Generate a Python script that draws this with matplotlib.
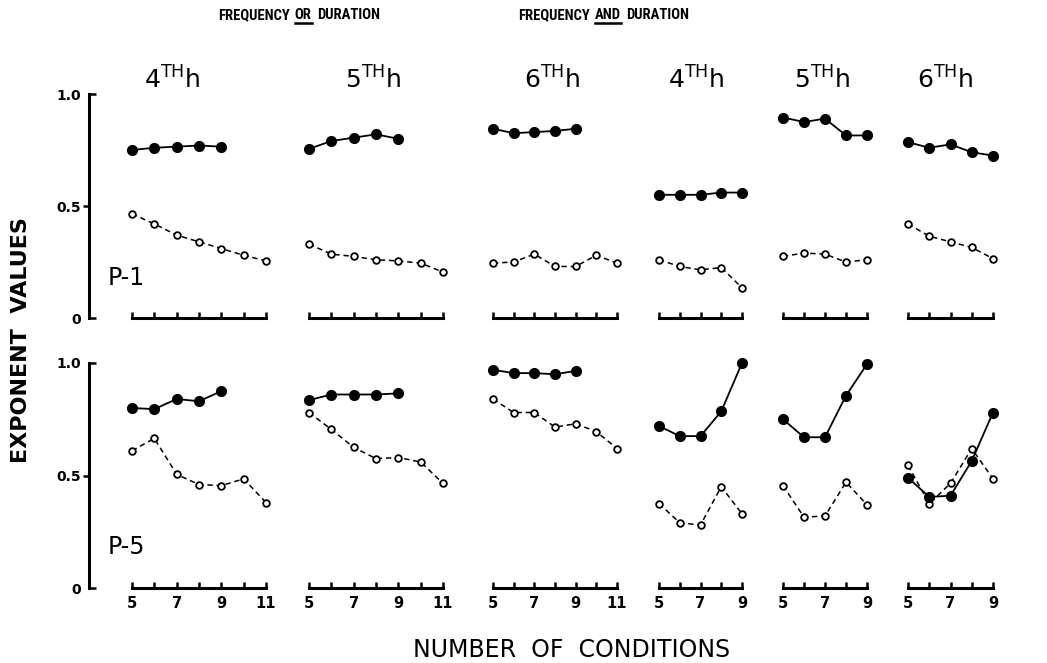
import matplotlib
matplotlib.use("Agg")
import matplotlib.pyplot as plt
from matplotlib.lines import Line2D
from matplotlib import font_manager

# ==============================
# DATA
# ==============================
long_x = [5, 6, 7, 8, 9, 10, 11]
short_x = [5, 6, 7, 8, 9]

hour_titles = ["4", "5", "6", "4", "5", "6"]

# P-1, frequency OR duration (4th, 5th, 6th h) then AND (4th, 5th, 6th h)
p1_solid = [
    [0.75, 0.76, 0.765, 0.77, 0.765],
    [0.755, 0.79, 0.805, 0.82, 0.80],
    [0.845, 0.825, 0.83, 0.835, 0.845],
    [0.55, 0.55, 0.55, 0.56, 0.56],
    [0.895, 0.875, 0.89, 0.815, 0.815],
    [0.785, 0.76, 0.775, 0.74, 0.725],
]
p1_open = [
    [0.465, 0.42, 0.37, 0.34, 0.31, 0.28, 0.255],
    [0.33, 0.285, 0.275, 0.26, 0.255, 0.245, 0.205],
    [0.245, 0.25, 0.285, 0.23, 0.23, 0.28, 0.245],
    [0.26, 0.23, 0.215, 0.225, 0.135],
    [0.275, 0.29, 0.285, 0.25, 0.26],
    [0.42, 0.365, 0.34, 0.315, 0.265],
]

# P-5
p5_solid = [
    [0.80, 0.795, 0.84, 0.83, 0.875],
    [0.835, 0.86, 0.86, 0.86, 0.865],
    [0.97, 0.955, 0.955, 0.95, 0.965],
    [0.72, 0.675, 0.675, 0.785, 1.0],
    [0.75, 0.67, 0.67, 0.855, 0.995],
    [0.49, 0.405, 0.41, 0.565, 0.78],
]
p5_open = [
    [0.61, 0.665, 0.505, 0.46, 0.455, 0.485, 0.38],
    [0.78, 0.705, 0.625, 0.575, 0.58, 0.56, 0.465],
    [0.84, 0.78, 0.78, 0.715, 0.73, 0.695, 0.62],
    [0.375, 0.29, 0.28, 0.45, 0.33],
    [0.455, 0.315, 0.32, 0.47, 0.37],
    [0.545, 0.375, 0.465, 0.62, 0.485],
]

# ==============================
# LAYOUT (pixels)
# ==============================
W, H = 1047, 663
panel_px = [(132, 266, 11), (309, 443, 11), (493, 617, 11),
            (659, 742, 9), (783, 867, 9), (908, 993, 9)]
rows_px = [(318, 224), (588, 225)]    # y of zero line, height of 0..1
title_x = [172, 373, 552, 696, 822, 945]
yaxis_px = 89

installed = {f.name for f in font_manager.fontManager.ttflist}
if "Roboto Condensed" in installed:
    head_font, head_size = "Roboto Condensed", 10.5
elif "Roboto" in installed:
    head_font, head_size = "Roboto", 9.2
else:
    head_font, head_size = "DejaVu Sans", 7.8

fig = plt.figure(figsize=(W / 100, H / 100), dpi=100)
fig.patch.set_facecolor("white")

rows = [(p1_solid, p1_open, "P-1"), (p5_solid, p5_open, "P-5")]

for r, (solid, opn, pname) in enumerate(rows):
    y0, hgt = rows_px[r]
    for i, (xa, xb, xmax) in enumerate(panel_px):
        unit = (xb - xa) / (xmax - 5)
        left = xa - 0.5 * unit
        width = (xmax - 4) * unit
        ax = fig.add_axes([left / W, (H - y0) / H, width / W, hgt / H])
        ax.set_xlim(4.5, xmax + 0.5)
        ax.set_ylim(0, 1)
        ax.patch.set_alpha(0)

        ox = long_x if len(opn[i]) == 7 else short_x
        ax.plot(ox, opn[i], color="black", lw=1.1, ls=(0, (3.5, 2.5)),
                marker="o", ms=4.8, mfc="white", mec="black", mew=1.3,
                clip_on=False, zorder=3)
        ax.plot(short_x, solid[i], color="black", lw=1.3, ls="-",
                marker="o", ms=7, mfc="black", mec="black",
                clip_on=False, zorder=4)

        for s in ["top", "right"]:
            ax.spines[s].set_visible(False)
        ax.spines["bottom"].set_bounds(5, xmax)
        ax.spines["bottom"].set_linewidth(2.2)
        ax.set_xticks(list(range(5, xmax + 1)))
        if r == 1:
            ax.set_xticklabels([str(v) if v % 2 == 1 else "" for v in range(5, xmax + 1)],
                               fontsize=10.5, fontweight="bold")
        else:
            ax.set_xticklabels([])
        ax.tick_params(axis="x", direction="in", length=4.5, width=1.8, pad=6)

        if i == 0:
            ax.spines["left"].set_position(("outward", (left - yaxis_px) * 0.72))
            ax.spines["left"].set_bounds(0, 1)
            ax.spines["left"].set_linewidth(2.2)
            ax.set_yticks([0, 1.0])
            ax.set_yticklabels(["0", "1.0"], fontsize=10, fontweight="bold")
            ax.set_yticks([0.5], minor=True)
            ax.set_yticklabels(["0.5"], minor=True, fontsize=10, fontweight="bold")
            ax.tick_params(axis="y", which="major", direction="in", length=5, width=1.8, pad=6)
            ax.tick_params(axis="y", which="minor", direction="out", length=4, width=1.8, pad=2)
            ax.text(5 - 24 / unit, 0.18, pname, transform=ax.transData,
                    fontsize=17, ha="left", va="center")
        else:
            ax.spines["left"].set_visible(False)
            ax.set_yticks([])

# panel titles
for tx, hr in zip(title_x, hour_titles):
    fig.text(tx / W, 1 - 80 / H, hr + r"$^{\mathregular{TH}}$h", fontsize=18,
             ha="center", va="center")

# headers with underlined word
renderer = fig.canvas.get_renderer()


def header(x_px, parts, under):
    x = x_px / W
    y = 1 - 19 / H
    for k, part in enumerate(parts):
        if k > 0:
            x += 5 / W
        t = fig.text(x, y, part, fontsize=head_size, fontweight="bold",
                     family=[head_font, "DejaVu Sans"], ha="left", va="baseline")
        bb = t.get_window_extent(renderer)
        if k == under:
            fig.add_artist(Line2D([bb.x0 / W, bb.x1 / W], [1 - 23 / H] * 2,
                                  color="black", lw=1.8, transform=fig.transFigure))
        x = bb.x1 / W


header(218, ["FREQUENCY", "OR", "DURATION"], 1)
header(518, ["FREQUENCY", "AND", "DURATION"], 1)

fig.text(21 / W, 1 - 340 / H, "EXPONENT  VALUES", rotation=90, fontsize=16,
         fontweight="bold", ha="center", va="center")
fig.text(572 / W, 1 - 650 / H, "NUMBER  OF  CONDITIONS", fontsize=17,
         ha="center", va="center")

plt.savefig("out.png", dpi=100, facecolor="white")
plt.close()
